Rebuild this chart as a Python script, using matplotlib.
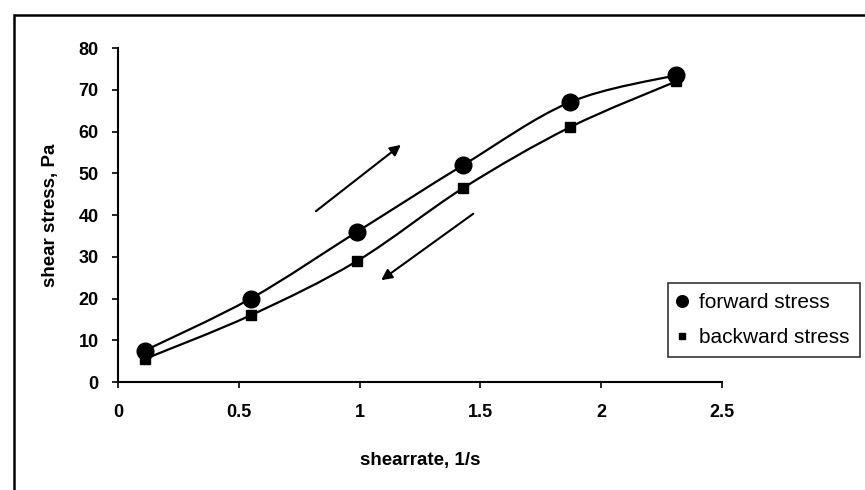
import numpy as np
import matplotlib.pyplot as plt
from matplotlib.path import Path
from matplotlib.patches import PathPatch, Rectangle

plt.rcParams['font.family'] = ['Liberation Sans', 'DejaVu Sans']

shear_rate = [0.11, 0.55, 0.99, 1.43, 1.87, 2.31]
forward_stress = [7.5, 20.0, 36.0, 52.0, 67.0, 73.5]
backward_stress = [5.5, 16.0, 29.0, 46.5, 61.0, 72.0]
series_names = ['forward stress', 'backward stress']
x_ticks = [0, 0.5, 1, 1.5, 2, 2.5]
x_tick_labels = ['0', '0.5', '1', '1.5', '2', '2.5']
y_ticks = [0, 10, 20, 30, 40, 50, 60, 70, 80]


def smooth_path(x, y):
    # Excel-like smoothed line: Catmull-Rom segments as cubic Bezier curves
    p = np.column_stack([x, y]).astype(float)
    ext = np.vstack([p[0], p, p[-1]])
    verts = [p[0]]
    codes = [Path.MOVETO]
    for i in range(len(p) - 1):
        p0, p1, p2, p3 = ext[i], ext[i + 1], ext[i + 2], ext[i + 3]
        verts += [p1 + (p2 - p0) / 6, p2 - (p3 - p1) / 6, p2]
        codes += [Path.CURVE4] * 3
    return Path(verts, codes)


fig = plt.figure(figsize=(8.65, 4.9), dpi=100)
ax = fig.add_axes([118 / 865, 1 - 382 / 490, 604 / 865, 334 / 490])

for ys in [forward_stress, backward_stress]:
    ax.add_patch(PathPatch(smooth_path(shear_rate, ys), fill=False,
                           edgecolor='black', lw=1.6))

h1, = ax.plot(shear_rate, forward_stress, 'o', color='black', ms=12,
              label=series_names[0])
h2, = ax.plot(shear_rate, backward_stress, 's', color='black', ms=7,
              label=series_names[1])

# direction arrows
ax.annotate('', xy=(1.18, 57.2), xytext=(0.81, 40.5),
            arrowprops=dict(arrowstyle='-|>', color='black', lw=1.5,
                            mutation_scale=16))
ax.annotate('', xy=(1.08, 24.0), xytext=(1.48, 40.7),
            arrowprops=dict(arrowstyle='-|>', color='black', lw=1.5,
                            mutation_scale=16))

ax.set_xlim(0, 2.5)
ax.set_ylim(0, 80)
ax.set_xticks(x_ticks)
ax.set_xticklabels(x_tick_labels)
ax.set_yticks(y_ticks)
for s in ['top', 'right']:
    ax.spines[s].set_visible(False)
for s in ['left', 'bottom']:
    ax.spines[s].set_linewidth(1.5)
ax.tick_params(axis='both', direction='out', length=4, width=1.2,
               labelsize=13, pad=10)
ax.tick_params(axis='x', pad=12)
for lab in ax.get_xticklabels() + ax.get_yticklabels():
    lab.set_fontweight('bold')

ax.set_xlabel('shearrate, 1/s', fontsize=13.5, fontweight='bold', labelpad=22)
ax.set_ylabel('shear stress, Pa', fontsize=13.5, fontweight='bold', labelpad=14)

leg = fig.legend(handles=[h1, h2], loc='upper left',
                 bbox_to_anchor=(668 / 865, 1 - 283 / 490),
                 frameon=True, fancybox=False, fontsize=15,
                 handlelength=0.3, handletextpad=0.7, borderpad=0.5,
                 labelspacing=0.75, markerscale=0.7, borderaxespad=0)
leg.get_frame().set_edgecolor('black')
leg.get_frame().set_linewidth(1.2)

# outer chart frame
fig.patches.append(Rectangle((14 / 865, -0.05), 1.1, 1 - 15 / 490 + 0.05,
                             transform=fig.transFigure, fill=False,
                             edgecolor='black', lw=1.8))

plt.savefig('out.png', dpi=100)
